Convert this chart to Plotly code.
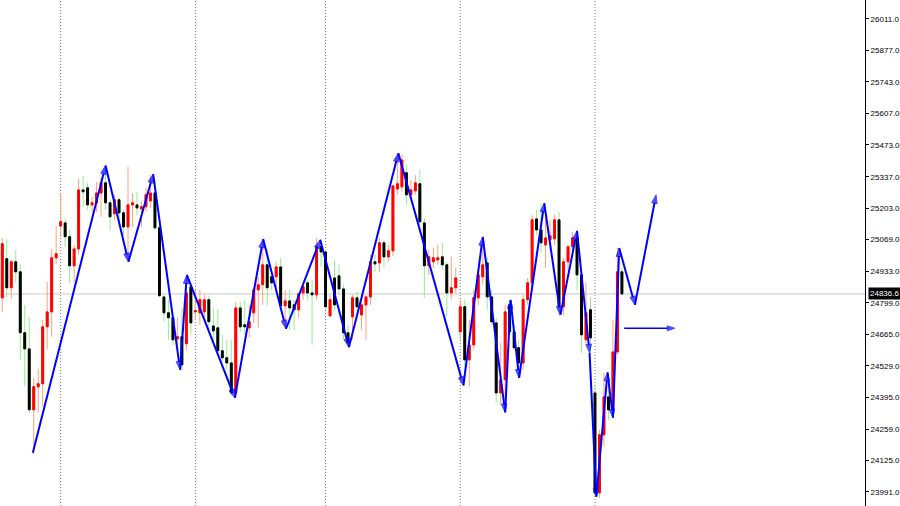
import plotly.graph_objects as go

# candle data (one candle per bar, oldest first)
opens = [24820, 24987, 24863, 24974, 24931, 24671, 24602, 24342, 24440, 24453,
         24696, 24760, 24991, 25127, 25140, 25081, 24957, 25029, 25281, 25290,
         25217, 25226, 25268, 25311, 25226, 25179, 25239, 25183, 25123, 25217,
         25217, 25200, 25209, 25234, 25268, 25119, 24824, 24756, 24735, 24645,
         24654, 24624, 24867, 24760, 24756, 24760, 24812, 24700, 24692, 24594,
         24564, 24542, 24414, 24777, 24705, 24692, 24756, 24854, 24876, 24961,
         24910, 24910, 24952, 24786, 24807, 24790, 24769, 24841, 24884, 24841,
         24833, 25038, 25016, 24743, 24905, 24914, 24858, 24671, 24739, 24820,
         24747, 24790, 24824, 24974, 24969, 25055, 24995, 25021, 25285, 25294,
         25354, 25260, 25277, 25307, 25140, 24957, 24974, 24982, 24995, 24961,
         24841, 24863, 24675, 24782, 24555, 24619, 24820, 24910, 24969, 24824,
         24713, 24414, 24470, 24790, 24675, 24607, 24542, 24812, 24884, 25157,
         25110, 25046, 25068, 25072, 25153, 24782, 24974, 25038, 25076, 24918,
         24641, 24769, 24414, 23987, 24235, 24397, 24342, 24589, 24931]
highs = [25076, 25072, 24982, 25025, 24965, 24790, 24739, 24478, 24517, 24726,
         24888, 25029, 25127, 25264, 25157, 25110, 25046, 25328, 25341, 25311,
         25251, 25315, 25332, 25384, 25239, 25260, 25247, 25196, 25379, 25268,
         25273, 25230, 25290, 25345, 25324, 25132, 24833, 24812, 24747, 24735,
         24777, 24918, 24888, 24854, 24854, 24833, 24829, 24777, 24769, 24662,
         24641, 24641, 24803, 24803, 24812, 24790, 24867, 24910, 25068, 25025,
         24940, 24974, 24991, 24854, 24854, 24812, 24812, 24880, 24897, 24897,
         25076, 25068, 25025, 24833, 24982, 24961, 24876, 24705, 24833, 24846,
         24812, 24833, 25004, 25004, 25076, 25068, 25046, 25303, 25439, 25431,
         25388, 25324, 25345, 25367, 25162, 25025, 25034, 25046, 25055, 24974,
         24995, 24948, 24812, 24812, 24726, 24854, 24940, 25081, 24991, 24854,
         24735, 24628, 24790, 24812, 24705, 24641, 24833, 24905, 25174, 25196,
         25221, 25174, 25153, 25174, 25187, 24991, 25046, 25102, 25106, 24931,
         24888, 24824, 24449, 24256, 24500, 24470, 24726, 25034, 24948]
lows = [24760, 24824, 24816, 24884, 24555, 24444, 24329, 24150, 24329, 24355,
        24602, 24654, 24965, 25081, 25038, 24884, 24884, 25004, 25209, 25196,
        25187, 25187, 25166, 25196, 25110, 25153, 25145, 25089, 24974, 25123,
        25174, 25123, 25187, 25204, 25110, 24824, 24718, 24641, 24619, 24611,
        24508, 24598, 24662, 24726, 24705, 24735, 24683, 24628, 24572, 24547,
        24513, 24402, 24393, 24675, 24662, 24649, 24713, 24692, 24790, 24786,
        24854, 24854, 24769, 24688, 24683, 24683, 24735, 24812, 24812, 24619,
        24812, 24952, 24769, 24739, 24769, 24833, 24641, 24607, 24641, 24747,
        24683, 24641, 24790, 24931, 24931, 24948, 24974, 24999, 25260, 25273,
        25217, 25239, 25260, 25132, 24820, 24918, 24948, 24961, 24940, 24739,
        24812, 24841, 24641, 24444, 24440, 24598, 24790, 24876, 24769, 24705,
        24372, 24363, 24329, 24662, 24598, 24478, 24513, 24790, 24854, 25089,
        25012, 24948, 25025, 25046, 24743, 24747, 24940, 25016, 24854, 24585,
        24619, 24585, 23970, 23966, 24184, 24299, 24308, 24577, 24836.6]
closes = [25051, 24863, 24974, 24931, 24671, 24602, 24342, 24440, 24453, 24696,
          24760, 24991, 25008, 25145, 25081, 24957, 25029, 25281, 25273, 25217,
          25226, 25268, 25311, 25226, 25166, 25239, 25183, 25123, 25217, 25226,
          25204, 25209, 25260, 25268, 25119, 24829, 24756, 24735, 24641, 24654,
          24534, 24841, 24713, 24765, 24812, 24812, 24718, 24679, 24594, 24564,
          24542, 24414, 24777, 24696, 24696, 24718, 24854, 24876, 24961, 24863,
          24884, 24952, 24786, 24807, 24777, 24769, 24837, 24867, 24841, 24833,
          25038, 25016, 24782, 24812, 24790, 24858, 24671, 24628, 24820, 24782,
          24790, 24824, 24974, 24965, 25055, 24995, 25021, 25298, 25307, 25409,
          25260, 25281, 25311, 25145, 24957, 24995, 24991, 24991, 24961, 24841,
          24863, 24905, 24782, 24555, 24619, 24820, 24918, 24961, 24824, 24718,
          24414, 24470, 24760, 24675, 24607, 24542, 24812, 24884, 25153, 25110,
          25055, 25076, 25085, 25153, 24782, 24974, 25038, 25076, 24918, 24662,
          24756, 24649, 23987, 24235, 24397, 24342, 24589, 24931, 24836.6]
bars = list(range(len(closes)))

# zigzag turning points (bar position, price)
zz_bar = [6.8, 23.0, 28.1, 33.6, 39.6, 41.1, 51.8, 58.1, 63.2, 70.8, 77.2, 88.2,
          102.7, 107.0, 112.0, 113.2, 115.1, 120.7, 124.3, 128.0, 130.8, 132.3,
          134.8, 136.0, 137.4, 140.9, 145.6]
zz_price = [24158, 25385, 24974, 25348, 24513, 24918, 24393, 25071, 24688, 25068,
            24609, 25438, 24446, 25080, 24331, 24811, 24478, 25224, 24747, 25106,
            24585, 23970, 24502, 24308, 25033, 24790, 25260]
target_bar = [138.5, 149.8]
target_price = [24690, 24690]

separators = [13, 43, 72, 102, 132]
last_price = 24836.6
price_ticks = [26011, 25877, 25743, 25607, 25473, 25337, 25203, 25069, 24933,
               24799, 24665, 24529, 24395, 24259, 24125, 23991]

fig = go.Figure()

# wicks (light colours)
fig.add_trace(go.Candlestick(
    x=bars, open=opens, high=highs, low=lows, close=closes,
    increasing=dict(line=dict(color='#FFA07A', width=1), fillcolor='#FF0000'),
    decreasing=dict(line=dict(color='#90EE90', width=1), fillcolor='#000000'),
    whiskerwidth=0, showlegend=False, hoverinfo='skip'))

# bodies drawn again on top so their edges keep the body colour
body_hi = [max(o, c) for o, c in zip(opens, closes)]
body_lo = [min(o, c) for o, c in zip(opens, closes)]
fig.add_trace(go.Candlestick(
    x=bars, open=opens, high=body_hi, low=body_lo, close=closes,
    increasing=dict(line=dict(color='#FF0000', width=1), fillcolor='#FF0000'),
    decreasing=dict(line=dict(color='#000000', width=1), fillcolor='#000000'),
    whiskerwidth=0, showlegend=False, hoverinfo='skip'))

sizes = [0] + [9] * (len(zz_bar) - 1)
fig.add_trace(go.Scatter(
    x=zz_bar, y=zz_price, mode='lines+markers',
    line=dict(color='#0000FF', width=2),
    marker=dict(symbol='arrow', angleref='previous', size=sizes, color='#0000FF',
                line=dict(color='#0000FF', width=1)),
    showlegend=False, hoverinfo='skip'))
fig.add_trace(go.Scatter(
    x=target_bar, y=target_price, mode='lines+markers',
    line=dict(color='#0000FF', width=1.5),
    marker=dict(symbol='arrow', angleref='previous', size=[0, 8], color='#0000FF',
                line=dict(color='#0000FF', width=1)),
    showlegend=False, hoverinfo='skip'))

for s in separators:
    fig.add_vline(x=s, line=dict(color='#7a7a7a', width=1, dash='1px,2px'), layer='below')

fig.add_hline(y=last_price, line=dict(color='#C8C8C8', width=1), layer='below')
fig.add_annotation(x=1, xref='paper', y=last_price, yref='y', text=f'{last_price:.1f}',
                   showarrow=False, xanchor='left', xshift=3, bgcolor='#000000',
                   font=dict(color='#FFFFFF', size=8, family='Liberation Sans'),
                   borderpad=1)

fig.update_layout(
    width=900, height=506,
    margin=dict(l=0, r=35, t=0, b=0),
    paper_bgcolor='white', plot_bgcolor='white',
    boxgap=0.4,
    xaxis=dict(range=[-0.51, 192.14], visible=False, rangeslider=dict(visible=False)),
    yaxis=dict(range=[23931, 26092], side='right', tickvals=price_ticks,
               ticktext=[f'{v:.1f}' for v in price_ticks],
               ticks='outside', ticklen=3, tickcolor='#000000',
               showline=True, linecolor='#000000', linewidth=1,
               showgrid=False, zeroline=False,
               tickfont=dict(size=8, color='#000000', family='Liberation Sans')),
)

# page has a default body margin; remove it so the chart fills the window
fig.write_html("out.html", config={'displayModeBar': False},
               post_script="document.body.style.margin='0';document.body.style.overflow='hidden';")
